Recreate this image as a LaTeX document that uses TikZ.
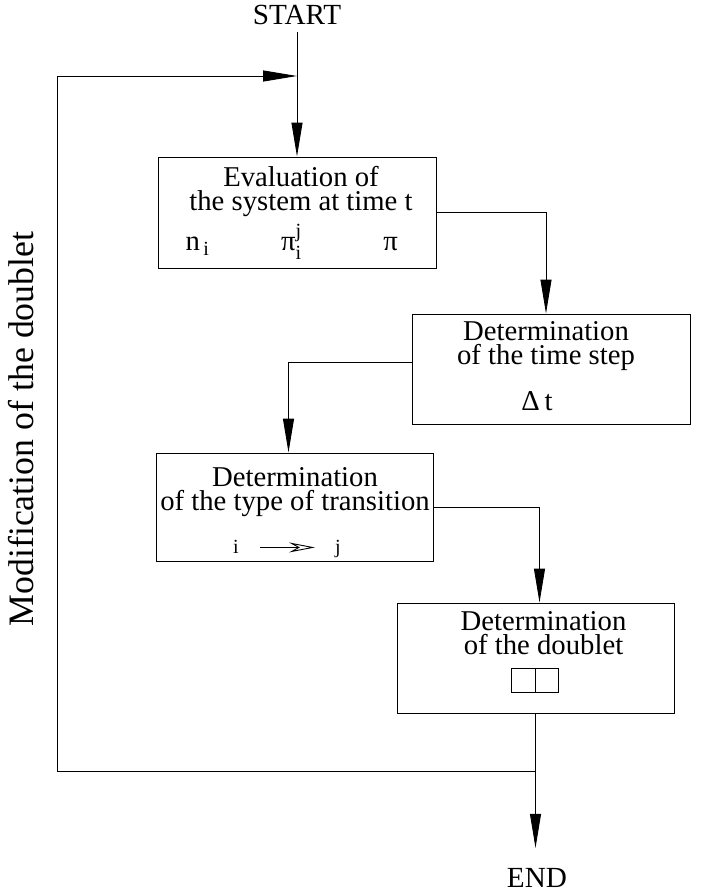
\documentclass[tikz,border=0pt]{standalone}
\usepackage{fontspec}
\usepackage{amsmath}
\usepackage{tikz}
\usetikzlibrary{arrows.meta}
\setmainfont{Liberation Serif}

\begin{document}
\begin{tikzpicture}[x=1pt,y=-1pt,
		box/.style={draw,line width=0.9pt,inner sep=0pt,minimum width=277pt,minimum height=110pt},
		boxtext/.style={align=center,inner sep=0pt,anchor=north,font=\fontsize{28.7}{24}\selectfont},
		rowtext/.style={inner sep=0pt,anchor=base,font=\fontsize{28.7}{24}\selectfont},
		cell/.style={draw,line width=0.9pt,inner sep=0pt,minimum width=23.5pt,minimum height=24pt},
		flow/.style={line width=0.9pt,-{Triangle[length=34pt,width=11pt]}}]
	\useasboundingbox (0,0) rectangle (707,892);
	\coordinate (c_eval) at (297,212.5);
	\coordinate (c_step) at (551,369);
	\coordinate (c_trans) at (294.5,507);
	\coordinate (c_doublet) at (535.5,658);
	\coordinate (join) at (297,76);
	\coordinate (corner) at (57,76);
	\coordinate (split) at (535.5,771);

	\node[inner sep=0pt,outer sep=8pt,anchor=base,font=\fontsize{29.2}{30}\selectfont] (start) at (297,24) {START};
	\node[inner sep=0pt,outer sep=20pt,anchor=base,font=\fontsize{29.2}{30}\selectfont] (stop) at (537,887) {END};
	\node[inner sep=0pt,rotate=90,anchor=base,font=\fontsize{35.8}{40}\selectfont] (looplabel) at (34,429) {Modification of the doublet};

	\node[box,minimum height=111pt,minimum width=278pt] (eval) at (c_eval) {};
	\node[box,minimum width=278pt] (step) at (c_step) {};
	\node[box,minimum height=108pt] (trans) at (c_trans) {};
	\node[box] (doublet) at (c_doublet) {};

	\node[boxtext] (eval_title) at ([shift={(4,10)}]eval.north) {Evaluation of\\the system at time t};
	\node[rowtext] (eval_n) at ([shift={(-99.5,-18)}]eval.south) {n$_{\,\text{i}}$};
	\node[rowtext] (eval_pij) at ([shift={(-5.5,-18)}]eval.south) {π$_{\text{i}}^{\text{j}}$};
	\node[rowtext] (eval_pi) at ([shift={(93.5,-18)}]eval.south) {π};

	\node[boxtext] (step_title) at ([shift={(-5,8)}]step.north) {Determination\\of the time step};
	\node[rowtext] (step_dt) at ([shift={(-14,-14)}]step.south) {Δ\,t};

	\node[boxtext] (trans_title) at ([shift={(0.5,15)}]trans.north) {Determination\\of the type of transition};
	\node[rowtext,font=\fontsize{20}{22}\selectfont] (trans_i) at ([shift={(-58.5,-8)}]trans.south) {i};
	\node[rowtext,font=\fontsize{20}{22}\selectfont] (trans_j) at ([shift={(43.5,-8)}]trans.south) {j};
	\draw[line width=0.9pt,-{Stealth[open,length=26pt,width=10pt,inset=9pt]}] ([xshift=24pt,yshift=6pt]trans_i.base) -- ([xshift=-23pt,yshift=6pt]trans_j.base);

	\node[boxtext] (doublet_title) at ([shift={(8,9)}]doublet.north) {Determination\\of the doublet};
	\node[cell] (cell_l) at ([shift={(-12,-33)}]doublet.south) {};
	\node[cell] (cell_r) at ([shift={(11.5,-33)}]doublet.south) {};

	% flow of the steps
	\draw[flow] (start) -- (eval);
	\draw[flow] (eval.east) -| ([xshift=-5pt]step.north);
	\draw[flow] ([yshift=7pt]step.west) -| ([xshift=-6pt]trans.north);
	\draw[flow] (trans.east) -| ([xshift=4pt]doublet.north);
	\draw[flow] (doublet.south) -- (doublet.south |- stop.north);
	\draw[flow] (split) -| (corner) -- (join);
\end{tikzpicture}
\end{document}
